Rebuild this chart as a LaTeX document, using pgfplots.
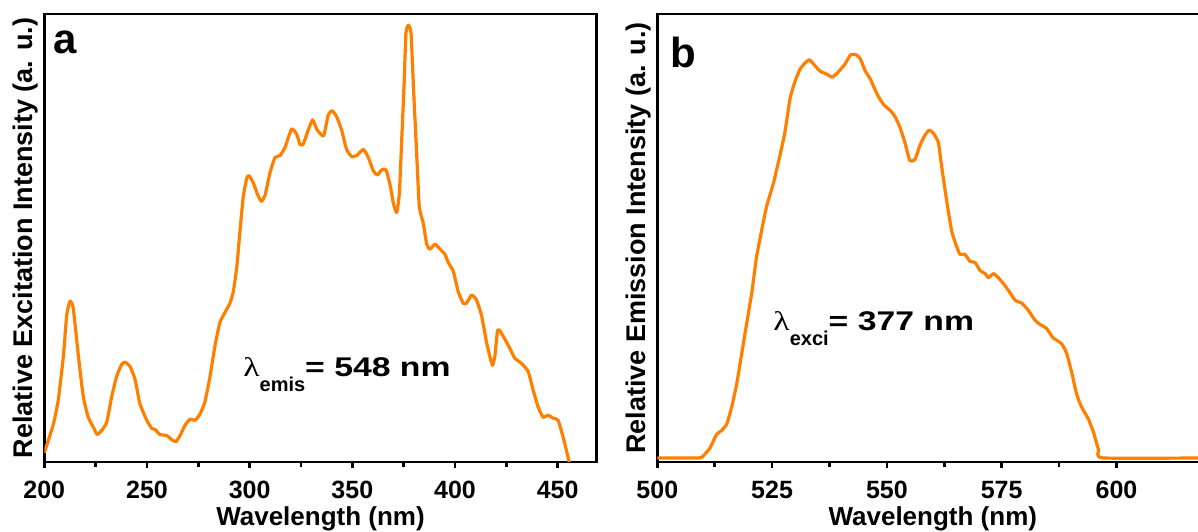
\documentclass[border=0pt]{standalone}
\usepackage{fontspec}
\setmainfont{Liberation Sans}
\newfontfamily\greekf{Liberation Serif}
\usepackage{pgfplots}
\pgfplotsset{compat=1.18}

\definecolor{specorange}{RGB}{255,128,0}

\pgfplotsset{
  spec/.style={
    scale only axis, height=224pt,
    ymin=0, ymax=440, ytick=\empty,
    axis line style={line width=1.3pt},
    xtick pos=left, tick align=outside,
    major tick length=3pt, minor tick length=2.5pt,
    xtick style={line width=1.3pt, black},
    minor tick num=1,
    tick label style={font=\fontsize{12.5}{14}\selectfont\bfseries},
    /pgf/number format/assume math mode=true,
    xticklabel style={anchor=north, inner sep=0pt, yshift=-6.5pt},
    label style={font=\fontsize{13}{15}\selectfont\bfseries},
    xlabel style={at={(rel axis cs:0.5,0)}, anchor=base, yshift=-31.5pt},
    ylabel style={at={(rel axis cs:0,0.5)}, anchor=south, inner sep=2.75pt,
                  font=\fontsize{13.5}{15}\selectfont\bfseries},
    xlabel={Wavelength (nm)},
  },
  curve/.style={specorange, line width=1.6pt, line join=round, smooth, tension=0.3},
}

% lambda with subscript, the main part set wide as in the reference
\newcommand{\lam}[2]{\scalebox{1.25}[1]{\greekf\mdseries λ}{\fontsize{10}{12}\selectfont\raisebox{-7.5pt}{#1}}\scalebox{1.25}[1]{#2}}

\begin{document}
\begin{tikzpicture}
% (a) excitation spectrum
\begin{axis}[spec, at={(0,0)}, anchor=south west,
  width=276.2pt, xmin=200, xmax=469,
  xtick={200,250,300,350,400,450},
  ylabel={Relative Excitation Intensity (a. u.)}]
\addplot[curve] table {
x y
200 9
204.4 37
206.8 61
209.3 104
210.9 144
212.5 158
214.1 151
216.6 104
219.0 64
221.4 44
223.9 34
225.8 27
227.9 31
230.4 39
232.8 64
235.2 84
237.7 96
239.3 98
241.7 94
244.2 81
246.6 57
249.9 41
252.3 33
253.9 32
256.3 27
259.6 26
262.0 22
264.1 20
266.1 26
268.5 36
270.9 42
273.4 41
275.8 47
278.2 59
280.7 84
283.1 114
285.5 137
288.0 147
290.4 156
292.0 167
293.7 191
295.3 227
296.9 261
298.6 279
299.8 281
301.8 274
304.2 261
305.8 256
307.5 262
309.9 284
312.3 299
314.8 301
317.2 309
320.4 327
322.9 322
324.5 312
326.1 312
328.5 326
330.7 336
332.6 327
335.1 321
336.2 321
338.3 341
340.2 345
342.4 339
344.8 326
347.2 307
349.7 300
352.1 301
355.4 307
357.8 299
360.2 286
362.2 282
364.3 287
366.4 287
368.4 272
370.0 254
371.6 245
372.9 264
374.0 314
375.2 371
376.1 421
377.3 429
378.6 421
379.7 371
381.3 304
382.6 251
384.6 234
386.2 214
387.8 209
390.3 214
392.7 209
395.1 204
396.7 196
399.2 187
401.6 167
404.0 156
405.6 156
408.1 164
410.5 159
412.9 144
415.4 117
417.3 101
418.3 95
419.4 104
420.7 129
421.8 129
424.2 121
426.6 112
429.1 102
432.3 97
435.6 89
438.0 71
440.5 54
442.9 44
445.3 46
447.8 43
450.2 41
452.7 24
454.3 11
455.6 0
};
\node[anchor=base west, inner sep=0pt, font=\fontsize{21}{23}\selectfont\bfseries] at (axis cs:204.2,401) {a};
\node[anchor=base west, inner sep=0pt, font=\fontsize{13.5}{15}\selectfont\bfseries] at (axis cs:296.7,83.5) {\lam{emis}{= 548 nm}};
\end{axis}

% (b) emission spectrum
\begin{axis}[spec, at={(306.5pt,0)}, anchor=south west,
  width=275.5pt, xmin=500, xmax=620,
  xtick={500,525,550,575,600},
  ylabel={Relative Emission Intensity (a. u.)}]
\addplot[curve] table {
x y
500 4
508.9 4
510.0 6
511.5 14
512.9 27
514.0 31
515.1 37
516.2 54
517.3 77
518.4 107
519.5 137
520.6 167
521.6 201
522.7 227
523.8 251
525.3 274
526.7 301
527.8 324
528.9 357
530.0 374
531.1 386
532.2 392
533.1 395
534.0 391
535.4 384
536.9 381
538.1 378
539.4 383
540.9 391
542.1 400
543.3 400
544.2 396
545.3 384
546.4 376
547.9 361
549.3 351
550.8 345
551.8 339
552.9 328
553.9 314
555.0 296
556.1 297
557.2 311
558.3 321
559.2 326
560.1 323
561.2 314
561.9 291
563.0 257
564.1 227
565.0 214
565.9 204
567.0 204
568.1 197
569.2 196
570.3 188
571.4 185
572.1 181
573.2 185
574.3 181
576.1 171
577.9 159
579.4 156
580.8 149
582.3 139
583.4 135
584.8 131
586.2 122
588.1 116
589.2 106
590.3 87
591.3 67
592.4 54
593.9 42
595.0 29
596.1 12
597.1 4
620 4
};
\node[anchor=base west, inner sep=0pt, font=\fontsize{21}{23}\selectfont\bfseries] at (axis cs:502.8,387) {b};
\node[anchor=base west, inner sep=0pt, font=\fontsize{13.5}{15}\selectfont\bfseries] at (axis cs:525.2,129) {\lam{exci}{= 377 nm}};
\end{axis}
\pgfresetboundingbox
\path (-22.15pt,-34.5pt) rectangle (576.85pt,231pt);
\end{tikzpicture}
\end{document}
